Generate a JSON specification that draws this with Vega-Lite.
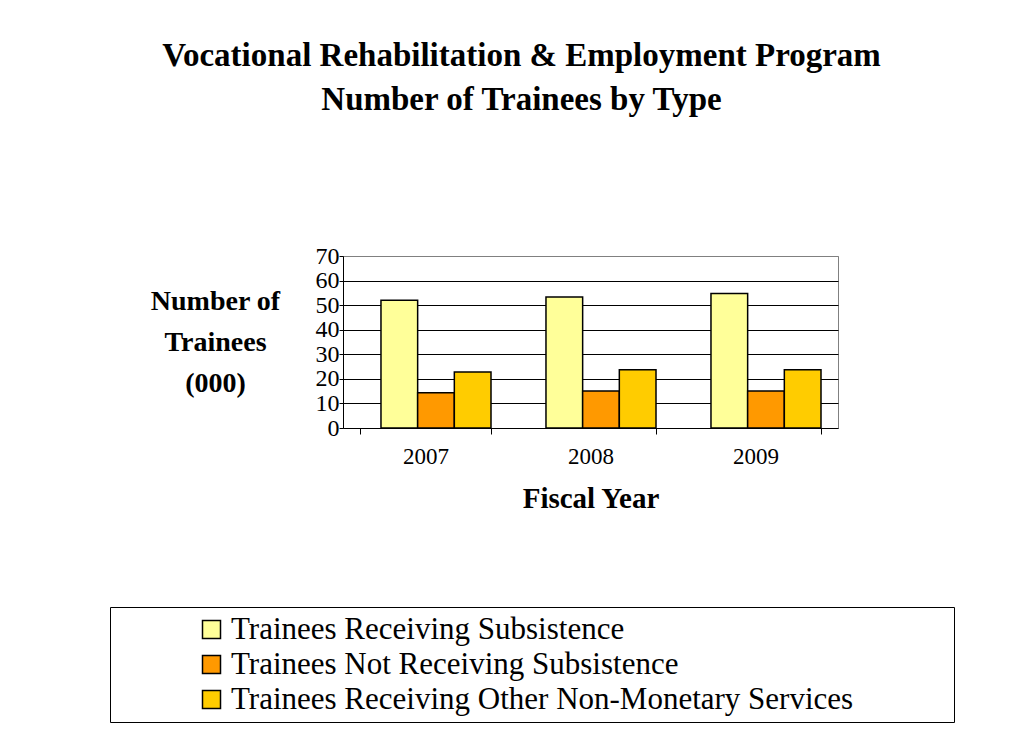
{
  "$schema": "https://vega.github.io/schema/vega-lite/v6.json",
  "width": 495,
  "height": 172,
  "autosize": {"type": "none"},
  "padding": {"left": 343, "top": 256, "right": 181, "bottom": 304},
  "background": "white",
  "config": {
    "font": "Liberation Serif",
    "view": {"stroke": "#808080", "strokeWidth": 1}
  },
  "title": {
    "text": ["Vocational Rehabilitation & Employment Program", "Number of Trainees by Type"],
    "fontSize": 33,
    "fontWeight": "bold",
    "font": "Liberation Serif",
    "color": "black",
    "anchor": "middle",
    "frame": "group",
    "dx": -69,
    "offset": 127,
    "lineHeight": 44
  },
  "data": {
    "values": [
      {"year": "2007", "series": "Trainees Receiving Subsistence", "value": 52},
      {"year": "2007", "series": "Trainees Not Receiving Subsistence", "value": 14.3},
      {"year": "2007", "series": "Trainees Receiving Other Non-Monetary Services", "value": 22.8},
      {"year": "2008", "series": "Trainees Receiving Subsistence", "value": 53.3},
      {"year": "2008", "series": "Trainees Not Receiving Subsistence", "value": 15.1},
      {"year": "2008", "series": "Trainees Receiving Other Non-Monetary Services", "value": 23.7},
      {"year": "2009", "series": "Trainees Receiving Subsistence", "value": 54.7},
      {"year": "2009", "series": "Trainees Not Receiving Subsistence", "value": 15.1},
      {"year": "2009", "series": "Trainees Receiving Other Non-Monetary Services", "value": 23.7}
    ]
  },
  "mark": {"type": "bar", "stroke": "black", "strokeWidth": 1.5},
  "encoding": {
    "x": {
      "field": "year",
      "type": "nominal",
      "scale": {"paddingInner": 0.206, "paddingOuter": 0.103},
      "axis": {
        "labelAngle": 0,
        "labelFontSize": 23,
        "labelColor": "black",
        "labelPadding": 11,
        "tickSize": 6,
        "tickColor": "black",
        "domainColor": "black",
        "tickBand": "extent",
        "grid": false,
        "title": "Fiscal Year",
        "titleFontSize": 29,
        "titleFontWeight": "bold",
        "titleColor": "black",
        "titlePadding": 16
      }
    },
    "xOffset": {
      "field": "series",
      "type": "nominal",
      "sort": ["Trainees Receiving Subsistence", "Trainees Not Receiving Subsistence", "Trainees Receiving Other Non-Monetary Services"],
      "scale": {"paddingInner": 0, "paddingOuter": 0.286, "align": 1}
    },
    "y": {
      "field": "value",
      "type": "quantitative",
      "scale": {"domain": [0, 70]},
      "axis": {
        "values": [0, 10, 20, 30, 40, 50, 60, 70],
        "labelFontSize": 24,
        "labelColor": "black",
        "labelPadding": 0,
        "labelOverlap": false,
        "labelBound": false,
        "labelFlush": false,
        "tickSize": 4,
        "tickColor": "black",
        "domainColor": "black",
        "grid": true,
        "gridColor": {"condition": {"test": "datum.value === 0 || datum.value === 70", "value": "#808080"}, "value": "black"},
        "gridOpacity": 1,
        "title": ["Number of", "Trainees", "(000)"],
        "titleAngle": 0,
        "titleFontSize": 28,
        "titleFontWeight": "bold",
        "titleColor": "black",
        "titleX": -128,
        "titleY": 45,
        "titleAlign": "center",
        "titleBaseline": "middle",
        "titleLineHeight": 41
      }
    },
    "color": {
      "field": "series",
      "type": "nominal",
      "scale": {
        "domain": ["Trainees Receiving Subsistence", "Trainees Not Receiving Subsistence", "Trainees Receiving Other Non-Monetary Services"],
        "range": ["#FFFF99", "#FF9900", "#FFCC00"]
      },
      "legend": {
        "orient": "none",
        "legendX": -233,
        "legendY": 351,
        "title": null,
        "direction": "vertical",
        "strokeColor": "black",
        "padding": 7,
        "symbolType": "square",
        "symbolSize": 324,
        "symbolStrokeColor": "black",
        "symbolStrokeWidth": 1.5,
        "symbolOpacity": 1,
        "labelFontSize": 31,
        "labelColor": "black",
        "labelLimit": 1000,
        "labelExpr": "datum.label + '\u00a0\u00a0\u00a0\u00a0\u00a0\u00a0\u00a0\u00a0\u00a0\u00a0\u00a0\u00a0\u200b'",
        "rowPadding": 3,
        "symbolOffset": 79,
        "labelOffset": 4
      }
    }
  }
}
